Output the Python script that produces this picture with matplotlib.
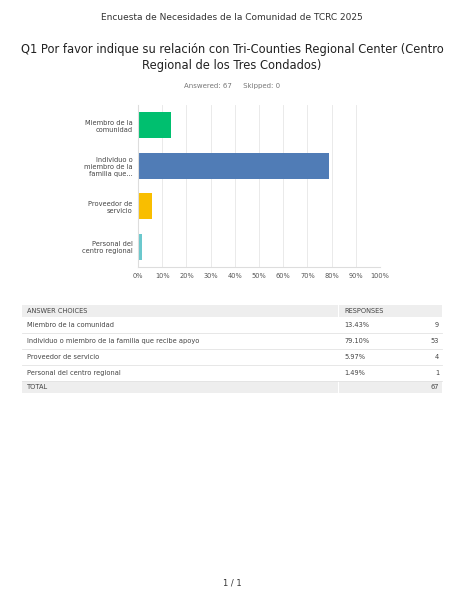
import matplotlib.pyplot as plt
from matplotlib.patches import Rectangle

categories = ['Miembro de la\ncomunidad', 'Individuo o\nmiembro de la\nfamilia que...',
              'Proveedor de\nservicio', 'Personal del\ncentro regional']
full_names = ['Miembro de la comunidad', 'Individuo o miembro de la familia que recibe apoyo',
              'Proveedor de servicio', 'Personal del centro regional']
percents = [13.43, 79.10, 5.97, 1.49]
counts = [9, 53, 4, 1]
total = 67
colors = ['#00BF6F', '#507CB6', '#F9BE00', '#6BC8CD']

W, H = 464, 600
fig = plt.figure(figsize=(W / 100, H / 100), dpi=100)

fig.text(0.5, 1 - 17 / H, 'Encuesta de Necesidades de la Comunidad de TCRC 2025',
         ha='center', va='center', fontsize=6.5, color='#333333')
fig.text(0.5, 1 - 57 / H, 'Q1 Por favor indique su relación con Tri-Counties Regional Center (Centro\nRegional de los Tres Condados)',
         ha='center', va='center', fontsize=8.3, color='#222222', linespacing=1.3)
fig.text(0.5, 1 - 86 / H, 'Answered: 67     Skipped: 0', ha='center', va='center',
         fontsize=5, color='#777777')

ax = fig.add_axes([138 / W, 1 - 267 / H, 242 / W, 162 / H])
y = list(range(len(categories)))
ax.barh(y, percents, height=0.65, color=colors)
ax.set_ylim(len(categories) - 0.5, -0.5)
ax.set_xlim(0, 100)
ax.set_xticks(range(0, 101, 10))
ax.set_xticklabels([f'{v}%' for v in range(0, 101, 10)], fontsize=4.8, color='#555555')
ax.set_yticks(y)
ax.set_yticklabels(categories, fontsize=4.8, color='#444444')
ax.tick_params(length=0, pad=4)
ax.grid(axis='x', color='#e6e6e6', linewidth=0.6)
ax.set_axisbelow(True)
for s in ['top', 'right']:
    ax.spines[s].set_visible(False)
for s in ['left', 'bottom']:
    ax.spines[s].set_color('#dddddd')

# table
tx = fig.add_axes([0, 0, 1, 1])
tx.set_xlim(0, W)
tx.set_ylim(H, 0)
tx.axis('off')
left, right, split = 22, 442, 339
row_h = 16
top = 305
rows = [('ANSWER CHOICES', 'RESPONSES', '')] + \
       [(n, f'{p:.2f}%', str(c)) for n, p, c in zip(full_names, percents, counts)] + \
       [('TOTAL', '', str(total))]
for i, (a, b, c) in enumerate(rows):
    y0 = top + i * row_h if i == 0 else top + 12 + (i - 1) * row_h
    h = 12 if i in (0, len(rows) - 1) else row_h
    if i in (0, len(rows) - 1):
        tx.add_patch(Rectangle((left, y0), split - left - 1, h, color='#eeeeee', lw=0))
        tx.add_patch(Rectangle((split, y0), right - split, h, color='#eeeeee', lw=0))
    else:
        tx.plot([left, right], [y0 + h, y0 + h], color='#e3e3e3', lw=0.6)
    yc = y0 + h / 2
    tx.text(left + 5, yc, a, fontsize=4.8, va='center', color='#444444')
    tx.text(split + 5, yc, b, fontsize=4.8, va='center', color='#444444')
    tx.text(right - 3, yc, c, fontsize=4.8, va='center', ha='right', color='#444444')

fig.text(0.5, 1 - 583 / H, '1 / 1', ha='center', va='center', fontsize=6, color='#333333')

fig.savefig('out.png', dpi=100)
